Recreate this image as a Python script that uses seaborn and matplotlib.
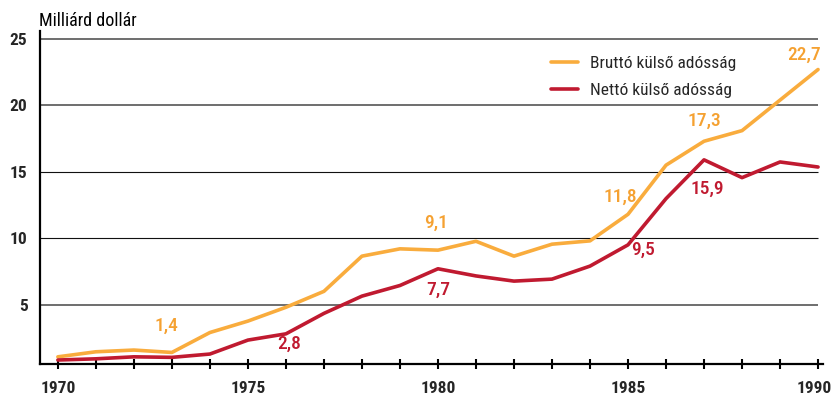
import matplotlib
matplotlib.use("Agg")
import matplotlib.pyplot as plt
import matplotlib.ticker as mticker
import matplotlib.transforms as mtransforms
from matplotlib import font_manager
import pandas as pd
import seaborn as sns

# Hungarian external debt, billion USD
years = list(range(1970, 1991))
brutto = [1.07, 1.45, 1.58, 1.4, 2.9, 3.76, 4.8, 6.0, 8.65, 9.2, 9.1, 9.77, 8.65,
          9.55, 9.8, 11.8, 15.5, 17.3, 18.1, 20.4, 22.7]
netto = [0.83, 0.92, 1.07, 1.03, 1.28, 2.33, 2.8, 4.34, 5.64, 6.44, 7.7, 7.16, 6.77,
         6.92, 7.9, 9.5, 12.98, 15.9, 14.56, 15.74, 15.36]
series_names = ["Bruttó külső adósság", "Nettó külső adósság"]
y_ticks = [5, 10, 15, 20, 25]
x_label_years = [1970, 1975, 1980, 1985, 1990]
unit_label = "Milliárd dollár"

# years whose values are written on the chart
brutto_labelled = [1973, 1980, 1985, 1987, 1990]
netto_labelled = [1976, 1980, 1985, 1987]

ORANGE = "#f9ac3d"
ORANGE_TEXT = "#f5a131"
RED = "#c01a30"

sns.set_theme(style="white")
names = {f.name for f in font_manager.fontManager.ttflist}
family = [n for n in ("Roboto Condensed", "Liberation Sans Narrow") if n in names] + ["DejaVu Sans"]
plt.rcParams["font.family"] = family
plt.rcParams["font.stretch"] = "condensed"

df = pd.DataFrame({
    "year": years * 2,
    "value": brutto + netto,
    "series": [series_names[0]] * len(years) + [series_names[1]] * len(years),
})

fig = plt.figure(figsize=(8.34, 3.98), dpi=100)
W, H = 834, 398
ax = fig.add_axes([40 / W, (H - 364) / H, (823 - 40) / W, (364 - 31) / H])

x_lo, x_hi = 1969.53, 1990.13
ax.set_xlim(x_lo, x_hi)
ax.set_ylim(0.53, 25.6)

# horizontal reference lines
for yv in y_ticks:
    if yv in (10, 15):
        ax.hlines(yv, x_lo, 1990, color="#111111", lw=0.8, zorder=1)
    else:
        ax.hlines(yv, x_lo, 1990, color="#6e6e6e", lw=1.4, zorder=1)

sns.lineplot(data=df, x="year", y="value", hue="series",
             palette=[ORANGE, RED], linewidth=2.6, ax=ax, zorder=3)

ax.set_xlabel("")
ax.set_ylabel("")

for side in ("top", "right"):
    ax.spines[side].set_visible(False)
for side in ("left", "bottom"):
    ax.spines[side].set_color("black")
    ax.spines[side].set_linewidth(1.6)

ax.set_yticks(y_ticks)
ax.set_yticklabels([str(v) for v in y_ticks], fontweight="bold", fontsize=12.5)
ax.tick_params(axis="y", length=0, pad=9)

ax.xaxis.set_major_locator(mticker.FixedLocator(x_label_years))
ax.xaxis.set_minor_locator(mticker.FixedLocator(years))
ax.set_xticklabels([str(v) for v in x_label_years], fontweight="bold", fontsize=12.5)
ax.tick_params(axis="x", which="both", direction="inout", length=7, width=1.5,
               color="black", pad=9, bottom=True)
# keep the last year label inside the canvas
last = ax.get_xticklabels()[-1]
last.set_transform(last.get_transform() +
                   mtransforms.ScaledTranslation(-3 / 72, 0, fig.dpi_scale_trans))

fig.text(39 / W, 1 - 21 / H, unit_label, fontsize=13, va="center", ha="left",
         color="black")

handles, labels = ax.get_legend_handles_labels()
ax.legend(handles, labels, loc="upper left", bbox_to_anchor=(542 / W, 1 - 47 / H),
          bbox_transform=fig.transFigure, frameon=False, fontsize=12.5,
          handlelength=1.55, handletextpad=0.7, labelspacing=0.72, borderpad=0)


def fmt(v):
    return f"{v:.1f}".replace(".", ",")


px = 0.72  # points per pixel at 100 dpi
brutto_offsets = {1973: (-5, 27), 1980: (-2, 27), 1985: (-8, 17), 1987: (0, 20),
                  1990: (-14, 15)}
netto_offsets = {1976: (3, -10), 1980: (0, -21), 1985: (15, -5), 1987: (3, -29)}

for yr in brutto_labelled:
    v = brutto[years.index(yr)]
    dx, dy = brutto_offsets[yr]
    ax.annotate(fmt(v), (yr, v), xytext=(dx * px, dy * px), textcoords="offset points",
                ha="center", va="center", color=ORANGE_TEXT, fontsize=14,
                fontweight="medium", annotation_clip=False, zorder=5)
for yr in netto_labelled:
    v = netto[years.index(yr)]
    dx, dy = netto_offsets[yr]
    ax.annotate(fmt(v), (yr, v), xytext=(dx * px, dy * px), textcoords="offset points",
                ha="center", va="center", color=RED, fontsize=14,
                fontweight="medium", annotation_clip=False, zorder=5)

fig.savefig("out.png", dpi=100)
